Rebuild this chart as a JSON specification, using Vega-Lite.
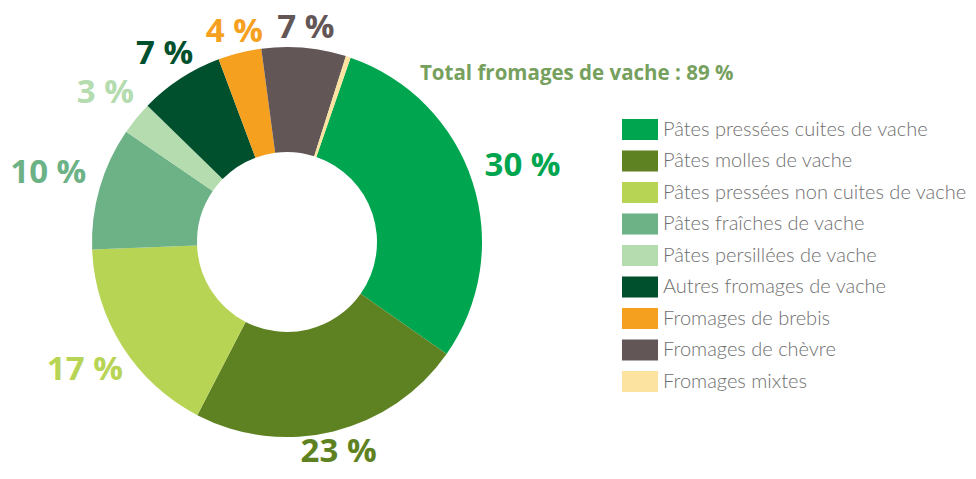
{
  "$schema": "https://vega.github.io/schema/vega-lite/v6.json",
  "width": 574,
  "height": 484,
  "padding": 0,
  "autosize": {"type": "pad"},
  "background": "white",
  "title": {
    "text": "Total fromages de vache : 89 %",
    "anchor": "start",
    "frame": "group",
    "orient": "top",
    "dx": 420,
    "dy": 88,
    "font": "Open Sans",
    "fontSize": 20.5,
    "fontWeight": "bold",
    "color": "#76a05d"
  },
  "data": {
    "values": [
      {"rang": 1, "type": "Pâtes pressées cuites de vache", "part": 29.5, "label": "30 %"},
      {"rang": 2, "type": "Pâtes molles de vache", "part": 22.9, "label": "23 %"},
      {"rang": 3, "type": "Pâtes pressées non cuites de vache", "part": 16.8, "label": "17 %"},
      {"rang": 4, "type": "Pâtes fraîches de vache", "part": 10.2, "label": "10 %"},
      {"rang": 5, "type": "Pâtes persillées de vache", "part": 2.75, "label": "3 %"},
      {"rang": 6, "type": "Autres fromages de vache", "part": 7.0, "label": "7 %"},
      {"rang": 7, "type": "Fromages de brebis", "part": 3.6, "label": "4 %"},
      {"rang": 8, "type": "Fromages de chèvre", "part": 7.0, "label": "7 %"},
      {"rang": 9, "type": "Fromages mixtes", "part": 0.4, "label": ""}
    ]
  },
  "encoding": {
    "theta": {"field": "part", "type": "quantitative", "stack": true, "scale": {"range": [0.332, 6.6152]}},
    "order": {"field": "rang", "type": "quantitative"},
    "color": {
      "field": "type",
      "type": "nominal",
      "scale": {
        "domain": ["Pâtes pressées cuites de vache", "Pâtes molles de vache", "Pâtes pressées non cuites de vache", "Pâtes fraîches de vache", "Pâtes persillées de vache", "Autres fromages de vache", "Fromages de brebis", "Fromages de chèvre", "Fromages mixtes"],
        "range": ["#00a54f", "#5e8222", "#b8d455", "#6db286", "#b5dcaf", "#004f2d", "#f5a01e", "#625656", "#fce3a0"]
      },
      "legend": {
        "title": null,
        "orient": "none",
        "legendX": 622,
        "legendY": 119,
        "padding": 0,
        "symbolType": "M-1,-1H2.43V1H-1Z",
        "symbolSize": 441,
        "symbolStrokeWidth": 0,
        "symbolOpacity": 1,
        "labelOffset": 20,
        "labelFont": "Lato",
        "labelFontWeight": 300,
        "labelFontSize": 20,
        "labelColor": "#6f6f6f",
        "labelLimit": 400,
        "rowPadding": 10.5
      }
    }
  },
  "layer": [
    {
      "mark": {"type": "arc", "innerRadius": 90, "outerRadius": 195}
    },
    {
      "mark": {"type": "text", "font": "Open Sans", "fontWeight": "bold", "fontSize": 33},
      "encoding": {
        "text": {"field": "label", "type": "nominal"},
        "radius": {"value": {"expr": "252*215/sqrt(pow(215*sin(scale('theta', 0.5*datum.part_start + 0.5*datum.part_end)),2) + pow(252*cos(scale('theta', 0.5*datum.part_start + 0.5*datum.part_end)),2))"}}
      }
    }
  ],
  "config": {"view": {"stroke": null}}
}
